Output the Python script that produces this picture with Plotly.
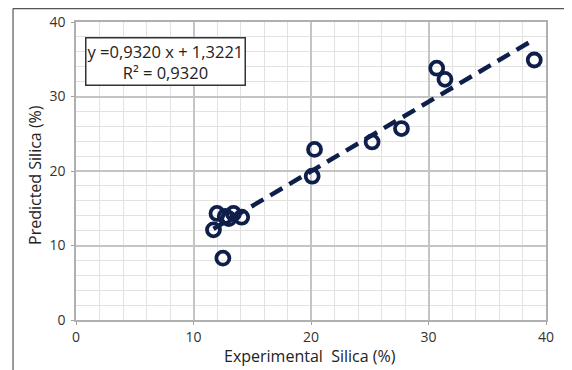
import plotly.graph_objects as go

experimental = [11.7, 12.0, 12.5, 12.7, 13.0, 13.4, 14.1, 20.1, 20.3, 25.2, 27.7, 30.7, 31.4, 39.0]
predicted = [12.1, 14.3, 8.3, 13.9, 13.6, 14.3, 13.8, 19.3, 22.9, 23.9, 25.7, 33.8, 32.3, 34.9]
slope = [0.9320]
intercept = [1.3221]
eq_text = ["y =0,9320 x + 1,3221", "R² = 0,9320"]
x_title = "Experimental  Silica (%)"
y_title = "Predicted Silica (%)"
x_ticks = [0, 10, 20, 30, 40]
y_ticks = [0, 10, 20, 30, 40]

navy = "#0f1f4b"
fx = [min(experimental), max(experimental)]
fy = [slope[0] * v + intercept[0] for v in fx]

fig = go.Figure()
fig.add_trace(go.Scatter(x=fx, y=fy, mode="lines",
                         line=dict(color=navy, width=4.5, dash="14px,8px"),
                         hoverinfo="skip", showlegend=False))
fig.add_trace(go.Scatter(x=experimental, y=predicted, mode="markers",
                         marker=dict(symbol="circle-open", size=13, color=navy,
                                     line=dict(width=3.8, color=navy)),
                         showlegend=False))

axis_common = dict(
    range=[0, 40], tickvals=x_ticks, showgrid=True, gridcolor="#c4c4c4", gridwidth=1.5,
    minor=dict(dtick=2, showgrid=True, gridcolor="#e2e2e2", gridwidth=1),
    showline=True, linecolor="#b0b0b0", linewidth=1.5, mirror=True,
    ticks="outside", ticklen=3, tickcolor="#a0a0a0", zeroline=False, automargin=False,
    tickfont=dict(family="Open Sans", size=14, color="#333333"),
)
fig.update_xaxes(**axis_common)
fig.update_yaxes(**{**axis_common, "tickvals": y_ticks}, ticklabelstandoff=3)

title_font = dict(family="Open Sans", size=16, color="#222222")
fig.add_annotation(xref="paper", yref="paper", x=0.498, y=-0.122, xanchor="center", yanchor="middle",
                   text=x_title, showarrow=False, font=title_font)
fig.add_annotation(xref="paper", yref="paper", x=-0.087, y=0.487, xanchor="center", yanchor="middle",
                   text=y_title, showarrow=False, textangle=-90, font=title_font)

fig.add_annotation(xref="paper", yref="paper", x=0.02, y=0.95, xanchor="left", yanchor="top",
                   text=eq_text[0] + "<br>" + eq_text[1], showarrow=False, align="center",
                   font=dict(family="Open Sans", size=16.5, color="#222222"),
                   bgcolor="white", bordercolor="#333333", borderwidth=1.5, borderpad=1)

# outer frame (top and left edges visible in reference)
fig.add_shape(type="line", xref="paper", yref="paper", x0=-0.134, x1=1.1, y0=1.045, y1=1.045,
              line=dict(color="#555555", width=1.2))
fig.add_shape(type="line", xref="paper", yref="paper", x0=-0.134, x1=-0.134, y0=1.045, y1=-0.2,
              line=dict(color="#555555", width=1.2))

# page body adds an 8px offset, so the figure is shrunk by that much
fig.update_layout(width=564, height=362, margin=dict(l=68, r=26, t=14, b=50),
                  plot_bgcolor="white", paper_bgcolor="white")
fig.write_html("out.html")
